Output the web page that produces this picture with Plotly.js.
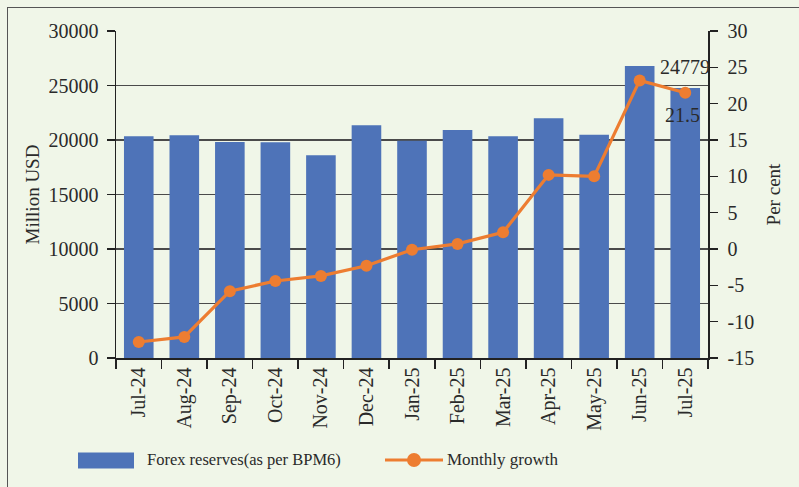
<!DOCTYPE html>
<html>
<head>
<meta charset="utf-8">
<script src="https://cdn.plot.ly/plotly-3.0.1.min.js"></script>
<style>
  html, body { margin: 0; padding: 0; background: #F0F6E8; width: 799px; height: 487px; overflow: hidden; }
  #frame { position: absolute; left: 7px; top: 7px; width: 900px; height: 600px; border-left: 1.5px solid #555; border-top: 1.5px solid #555; }
  #chart { position: absolute; left: 0; top: 0; width: 799px; height: 487px; }
</style>
</head>
<body>
<div id="frame"></div>
<div id="chart"></div>
<script>
const months = ["Jul-24","Aug-24","Sep-24","Oct-24","Nov-24","Dec-24","Jan-25","Feb-25","Mar-25","Apr-25","May-25","Jun-25","Jul-25"];
const reserves = [20340, 20430, 19820, 19790, 18600, 21350, 19940, 20920, 20340, 21990, 20490, 26790, 24779];
const growth = [-12.8, -12.1, -5.8, -4.4, -3.7, -2.3, -0.1, 0.7, 2.3, 10.2, 10.0, 23.2, 21.5];
const leftTicks = [0, 5000, 10000, 15000, 20000, 25000, 30000];
const rightTicks = [-15, -10, -5, 0, 5, 10, 15, 20, 25, 30];
const seriesNames = ["Forex reserves(as per BPM6)", "Monthly growth"];

const FONT = "Liberation Serif, Times New Roman, serif";
const BLUE = "#4E73B8";
const ORANGE = "#ED7D31";
const TXT = "#2a2a2a";

const L = 116, R = 708, T = 31, B = 358;
const px = v => (v - L) / (R - L);
const py = v => (B - v) / (B - T);

const last = months.length - 1;

const traces = [
  {
    type: "bar", x: months, y: reserves, name: seriesNames[0],
    marker: { color: BLUE }, yaxis: "y", hoverinfo: "x+y"
  },
  {
    type: "scatter", mode: "lines+markers", x: months, y: growth, name: seriesNames[1],
    yaxis: "y2", line: { color: ORANGE, width: 3.2 },
    marker: { color: ORANGE, size: 12 }
  }
];

const layout = {
  width: 799, height: 487,
  margin: { l: L, r: 799 - R, t: T, b: 487 - B, pad: 0 },
  paper_bgcolor: "rgba(0,0,0,0)",
  plot_bgcolor: "rgba(0,0,0,0)",
  showlegend: false,
  bargap: 0.35,
  font: { family: FONT, size: 18, color: TXT },
  xaxis: {
    type: "category",
    range: [-0.5, months.length - 0.5],
    tickangle: -90,
    ticks: "outside", ticklen: 9, tickcolor: "#222", tickwidth: 1.5,
    tickson: "boundaries",
    showline: true, linecolor: "#222", linewidth: 1.5,
    showgrid: false,
    tickfont: { family: FONT, size: 20, color: TXT },
    fixedrange: true
  },
  yaxis: {
    range: [0, 30000],
    tickvals: leftTicks,
    ticktext: leftTicks.map(String),
    ticks: "outside", ticklen: 8, tickcolor: "#222", tickwidth: 1.5,
    showline: true, linecolor: "#222", linewidth: 1.5,
    showgrid: true, gridcolor: "#4a4a4a", gridwidth: 1.3,
    zeroline: false,
    tickfont: { family: FONT, size: 20, color: TXT },
    ticklabelstandoff: 4,
    title: { text: "Million USD", font: { family: FONT, size: 19, color: TXT }, standoff: 4 },
    fixedrange: true
  },
  yaxis2: {
    overlaying: "y", side: "right",
    range: [-15, 30],
    tickvals: rightTicks,
    ticktext: rightTicks.map(String),
    ticks: "outside", ticklen: 8, tickcolor: "#222", tickwidth: 1.5,
    showline: true, linecolor: "#222", linewidth: 1.5,
    showgrid: false, zeroline: false,
    tickfont: { family: FONT, size: 20, color: TXT },
    ticklabelstandoff: 6,
    title: { text: "Per cent", font: { family: FONT, size: 19, color: TXT }, standoff: 13 },
    fixedrange: true
  },
  annotations: [
    {
      xref: "x", yref: "y", x: months[last], y: reserves[last],
      text: String(reserves[last]), showarrow: false,
      xanchor: "center", yanchor: "bottom", yshift: 8,
      font: { family: FONT, size: 20, color: TXT }
    },
    {
      xref: "x", yref: "y2", x: months[last], y: growth[last],
      text: String(growth[last]), showarrow: false,
      xanchor: "center", yanchor: "top", yshift: -9, xshift: -3,
      font: { family: FONT, size: 20, color: TXT }
    },
    {
      xref: "paper", yref: "paper", x: px(145), y: py(460),
      text: seriesNames[0], showarrow: false, xanchor: "left", yanchor: "middle",
      font: { family: FONT, size: 16.5, color: TXT }
    },
    {
      xref: "paper", yref: "paper", x: px(445), y: py(460),
      text: seriesNames[1], showarrow: false, xanchor: "left", yanchor: "middle",
      font: { family: FONT, size: 17, color: TXT }
    }
  ],
  shapes: [
    {
      type: "rect", xref: "paper", yref: "paper",
      x0: px(78), x1: px(134), y0: py(468.5), y1: py(452.5),
      fillcolor: BLUE, line: { width: 0 }
    },
    {
      type: "line", xref: "paper", yref: "paper",
      x0: px(385), x1: px(443), y0: py(460), y1: py(460),
      line: { color: ORANGE, width: 3 }
    },
    {
      type: "circle", xref: "paper", yref: "paper",
      xsizemode: "pixel", ysizemode: "pixel",
      xanchor: px(414), yanchor: py(460),
      x0: -7, x1: 7, y0: -7, y1: 7,
      fillcolor: ORANGE, line: { width: 0 }
    }
  ]
};

Plotly.newPlot("chart", traces, layout, { displayModeBar: false, staticPlot: true });
</script>
</body>
</html>
